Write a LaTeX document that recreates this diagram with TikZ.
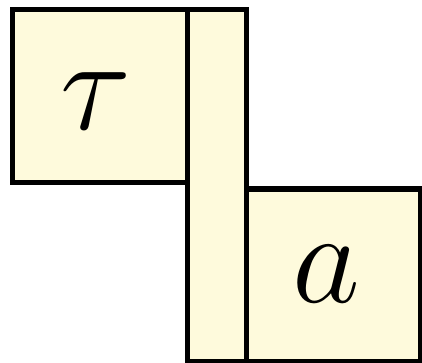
\documentclass[tikz,border=0pt]{standalone}
\usepackage{graphicx}
\definecolor{cream}{RGB}{254,250,220}
\begin{document}
\begin{tikzpicture}[x=0.5pt,y=-0.5pt,
  box/.style={draw=black, fill=cream, line width=2.5pt, inner sep=0pt, outer sep=0pt, font=\Huge}]
\useasboundingbox (0,0) rectangle (422,363);
\node (bar) [box, minimum width=59*0.5pt, minimum height=351*0.5pt] at (216.5,185.5) {};
\node (tau) [box, minimum width=175*0.5pt, minimum height=173*0.5pt] at (99.5,96.5) {};
\node (a) [box, minimum width=174*0.5pt, minimum height=172*0.5pt] at (333,275) {};
\node (taulabel) [font=\Huge, inner sep=0pt] at (96,101) {\scalebox{2.65}{$\tau$}};
\node (alabel) [font=\Huge, inner sep=0pt] at (326,274) {\scalebox{2.65}{$a$}};
\end{tikzpicture}
\end{document}
